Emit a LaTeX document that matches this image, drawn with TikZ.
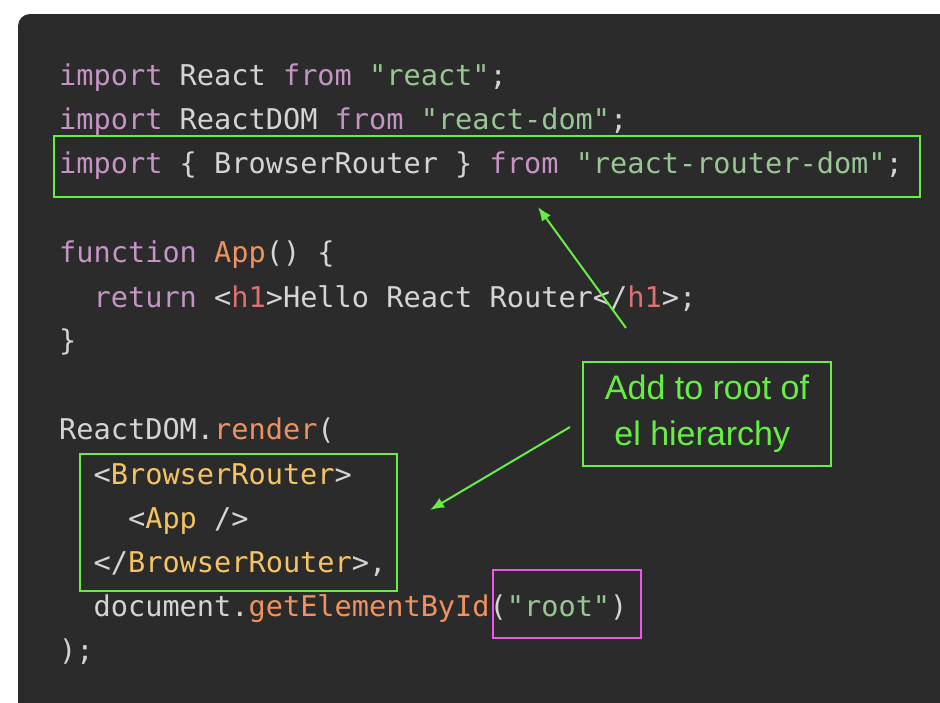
\documentclass[tikz,border=0pt]{standalone}
\usepackage{fontspec}
\usetikzlibrary{arrows.meta}
\setmainfont{Liberation Sans}
\setmonofont{DejaVu Sans Mono}
\definecolor{bg}{HTML}{2B2B2B}
\definecolor{kw}{HTML}{C594C5}
\definecolor{st}{HTML}{99C794}
\definecolor{fn}{HTML}{EE9260}
\definecolor{tg}{HTML}{F5C462}
\definecolor{rd}{HTML}{E07070}
\definecolor{tx}{HTML}{D4D4D4}
\definecolor{gr}{HTML}{66EE44}
\definecolor{pk}{HTML}{EE55EE}
\newcommand{\K}[1]{\textcolor{kw}{#1}}
\newcommand{\Sg}[1]{\textcolor{st}{#1}}
\newcommand{\F}[1]{\textcolor{fn}{#1}}
\newcommand{\Tg}[1]{\textcolor{tg}{#1}}
\newcommand{\R}[1]{\textcolor{rd}{#1}}
\begin{document}
\begin{tikzpicture}[x=1pt,y=-1pt,
  code/.style={anchor=base west,inner sep=0pt,text=tx,font=\fontsize{28.6}{30}\ttfamily},
  hl/.style={draw=gr,line width=1.6pt},
  arr/.style={draw=gr,line width=2pt,-{Latex[length=14pt,width=11pt]}}]
\useasboundingbox (0,0) rectangle (940,702);
\fill[white] (0,0) rectangle (940,702);
\fill[bg,rounded corners=12pt] (18,14) rectangle (960,730);
\node[code] (l1) at (59,85) {\K{import} React \K{from} \Sg{"react"};};
\node[code] (l2) at (59,129) {\K{import} ReactDOM \K{from} \Sg{"react-dom"};};
\node[code] (l3) at (59,173) {\K{import} \{ BrowserRouter \} \K{from} \Sg{"react-router-dom"};};
\node[code] (l4) at (59,262) {\K{function} \F{App}() \{};
\node[code] (l5) at (59,307) {\ \ \K{return} <\R{h1}>Hello React Router</\R{h1}>;};
\node[code] (l6) at (59,350) {\}};
\node[code] (l7) at (59,439) {ReactDOM.\F{render}(};
\node[code] (l8) at (59,484) {\ \ <\Tg{BrowserRouter}>};
\node[code] (l9) at (59,528) {\ \ \ \ <\Tg{App} />};
\node[code] (l10) at (59,572) {\ \ </\Tg{BrowserRouter}>,};
\node[code] (l11) at (59,616) {\ \ document.\F{getElementById}(\Sg{"root"})};
\node[code] (l12) at (59,660) {);};
\draw[hl] (54,136) rectangle (920,197);
\draw[hl] (80,454) rectangle (397,591);
\draw[draw=pk,line width=1.6pt] (493,570) rectangle (641,638);
\node[draw=gr,line width=1.6pt,minimum width=248pt,minimum height=104pt,inner sep=0pt,
  text=gr,font=\fontsize{34}{46}\selectfont,align=left] (lab) at (707,414)
  {Add to root of\\\ el hierarchy};
\coordinate (a1s) at (626,328);
\coordinate (a1e) at (538,207);
\coordinate (a2s) at (570,427);
\coordinate (a2e) at (430,510);
\draw[arr] (a1s) -- (a1e);
\draw[arr] (a2s) -- (a2e);
\end{tikzpicture}
\end{document}
